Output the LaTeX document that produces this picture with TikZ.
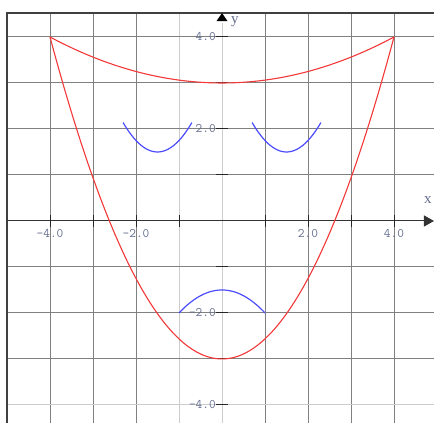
\documentclass[tikz,border=0pt]{standalone}
\usepackage{fontspec}
\setmainfont{Liberation Serif}
\usetikzlibrary{arrows.meta}
\definecolor{lblcol}{rgb}{0.38,0.42,0.55}
\definecolor{gridmid}{gray}{0.5}
\definecolor{gridlight}{gray}{0.8}
\definecolor{curvered}{rgb}{0.95,0.22,0.22}
\definecolor{curveblue}{rgb}{0.3,0.3,1}
\tikzset{
  gridline/.style={draw=gridmid, line width=1pt},
  gridfaint/.style={draw=gridlight, line width=1pt},
  tickmark/.style={draw=black!85, line width=1pt},
  ticklbl/.style={font=\ttfamily\fontsize{13}{13}\selectfont, text=lblcol, inner sep=0pt},
  axislbl/.style={font=\fontsize{15}{15}\selectfont, text=lblcol, inner sep=0pt},
  redcurve/.style={draw=curvered, line width=1.1pt, smooth, samples=80},
  bluecurve/.style={draw=curveblue, line width=1.2pt, smooth, samples=40},
}
\begin{document}
\begin{tikzpicture}[x=43pt,y=46pt]
\useasboundingbox (-5.163,-4.391) rectangle (4.930,4.804);
% grid vertical
\foreach \xv in {-4,-3,-2,1,2,3,4}
  \draw[gridline] (\xv,4.52) -- (\xv,-4.45);
\draw[gridfaint] (-1,4.52) -- (-1,-4.45);
% grid horizontal
\foreach \yv in {4,3,2,1,-1,-2,-3}
  \draw[gridline] (-5,\yv) -- (5,\yv);
\draw[gridfaint] (-5,-4) -- (5,-4);
% border
\draw[draw=black!75, line width=1.5pt] (-5,-4.45) -- (-5,4.52) -- (5,4.52);
% axes
\coordinate (xs) at (-5,0);
\coordinate (xe) at (4.93,0);
\coordinate (ys) at (0,-4.45);
\coordinate (ye) at (0,4.52);
\draw[draw=gridlight, line width=1pt] (ys) -- (0,4.3);
\draw[draw=black!80, line width=1pt, -{Triangle[length=10pt,width=11pt]}] (xs) -- (xe);
\fill[black] (ye) -- ++(-5.5pt,-8pt) -- ++(11pt,0) -- cycle;
% ticks
\foreach \xv in {-4,-3,-2,-1,1,2,3,4}
  \draw[tickmark] (\xv,-0.13) -- (\xv,0.13);
\foreach \yv in {-4,-3,-2,-1,1,2,3,4}
  \draw[tickmark] (-0.14,\yv) -- (0.14,\yv);
% tick labels
\node[ticklbl] (lxm4) at (-4,-0.27) {-4.0};
\node[ticklbl] (lxm2) at (-2,-0.27) {-2.0};
\node[ticklbl] (lx2) at (2,-0.27) {2.0};
\node[ticklbl] (lx4) at (4,-0.27) {4.0};
\node[ticklbl, anchor=east] (ly4) at (-0.14,4) {4.0};
\node[ticklbl, anchor=east] (ly2) at (-0.14,2) {2.0};
\node[ticklbl, anchor=east] (lym2) at (-0.14,-2) {-2.0};
\node[ticklbl, anchor=east] (lym4) at (-0.14,-4) {-4.0};
\node[axislbl] (xl) at (4.79,0.45) {x};
\node[axislbl] (yl) at (0.3,4.33) {y};
% curves
\draw[redcurve] plot[domain=-4:4] (\x,{3+\x*\x/16});
\draw[redcurve] plot[domain=-4:4] (\x,{7*\x*\x/16-3});
\draw[bluecurve] plot[domain=-2.3:-0.7] (\x,{1.5+(\x+1.5)*(\x+1.5)});
\draw[bluecurve] plot[domain=0.7:2.3] (\x,{1.5+(\x-1.5)*(\x-1.5)});
\draw[bluecurve] plot[domain=-1:1] (\x,{-1.5-0.5*\x*\x});
\end{tikzpicture}
\end{document}
